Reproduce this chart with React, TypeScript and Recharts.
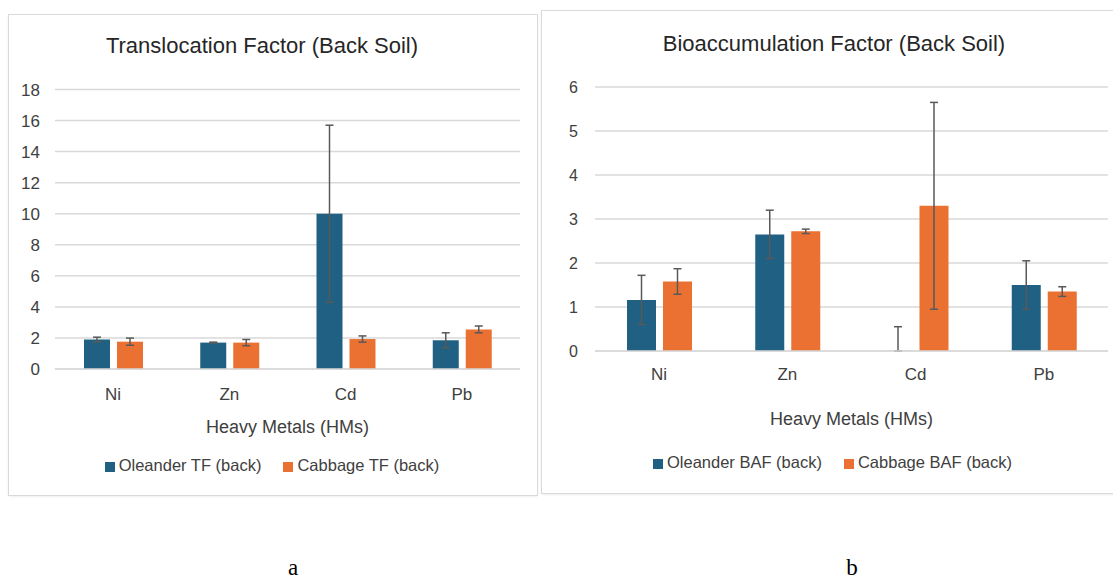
import React from "react";
import {
  BarChart,
  Bar,
  XAxis,
  YAxis,
  CartesianGrid,
  ErrorBar,
  Legend,
} from "recharts";

const metals = ["Ni", "Zn", "Cd", "Pb"];

// translocation factor (panel a)
const tfOleander = [1.9, 1.7, 10.0, 1.85];
const tfOleanderErr = [0.15, 0.03, 5.7, 0.48];
const tfCabbage = [1.76, 1.7, 1.93, 2.55];
const tfCabbageErr = [0.23, 0.2, 0.2, 0.22];
const tfTicks = [0, 2, 4, 6, 8, 10, 12, 14, 16, 18];

// bioaccumulation factor (panel b)
// Cd oleander is ~0; a zero-height bar drops its error bar in recharts, so keep it tiny
const bafOleander = [1.16, 2.65, 0.002, 1.5];
const bafOleanderErr = [0.56, 0.55, 0.55, 0.55];
const bafCabbage = [1.58, 2.72, 3.3, 1.35];
const bafCabbageErr = [0.29, 0.05, 2.35, 0.11];
const bafTicks = [0, 1, 2, 3, 4, 5, 6];

const OLEANDER = "#1f6083";
const CABBAGE = "#eb7133";
const GRID = "#d9d9d9";
const TEXT = "#404040";
const FONT = '"Liberation Sans", Arial, sans-serif';

// error bars can't go below the axis
const buildRows = (o: number[], oe: number[], c: number[], ce: number[]) =>
  metals.map((m, i) => ({
    metal: m,
    oleander: o[i],
    oleanderErr: [Math.min(oe[i], o[i]), oe[i]],
    cabbage: c[i],
    cabbageErr: [Math.min(ce[i], c[i]), ce[i]],
  }));

const tfData = buildRows(tfOleander, tfOleanderErr, tfCabbage, tfCabbageErr);
const bafData = buildRows(bafOleander, bafOleanderErr, bafCabbage, bafCabbageErr);

type PanelProps = {
  left: number;
  top: number;
  width: number;
  height: number;
  chartWidth: number;
  title: string;
  titleLeft: number;
  titleTop: number;
  data: any[];
  ticks: number[];
  oleanderName: string;
  cabbageName: string;
  margin: { top: number; right: number; bottom: number; left: number };
  yWidth: number;
  yTickMargin: number;
  yFont: number;
  xTickMargin: number;
  labelOffset: number;
  barSize: number;
  legendTop: number;
  legendLeft: number;
};

const Panel: React.FC<PanelProps> = (p) => {
  return (
    <div
      style={{
        position: "absolute",
        left: p.left,
        top: p.top,
        width: p.width,
        height: p.height,
        background: "#fff",
        boxShadow: `0 0 0 1px ${GRID}, 0 1px 3px rgba(0,0,0,0.12)`,
      }}
    >
      <div
        style={{
          position: "absolute",
          left: p.titleLeft - 250,
          top: p.titleTop,
          width: 500,
          textAlign: "center",
          fontFamily: FONT,
          fontSize: 22,
          lineHeight: "26px",
          color: "#262626",
          whiteSpace: "nowrap",
        }}
      >
        {p.title}
      </div>
      <BarChart
        width={p.chartWidth}
        height={p.height}
        data={p.data}
        margin={p.margin}
        barSize={p.barSize}
        barGap={7}
        style={{ position: "absolute", left: 0, top: 0 }}
      >
        <CartesianGrid vertical={false} stroke={GRID} strokeWidth={1.5} />
        <XAxis
          dataKey="metal"
          height={80}
          tickLine={false}
          tickSize={0}
          tickMargin={p.xTickMargin}
          axisLine={{ stroke: GRID, strokeWidth: 1.5 }}
          tick={{ fill: TEXT, fontSize: 17, fontFamily: FONT }}
          label={{
            value: "Heavy Metals (HMs)",
            position: "insideBottom",
            offset: p.labelOffset,
            fill: TEXT,
            fontSize: 18,
            fontFamily: FONT,
          }}
        />
        <YAxis
          width={p.yWidth}
          domain={[0, p.ticks[p.ticks.length - 1]]}
          ticks={p.ticks}
          interval={0}
          axisLine={false}
          tickLine={false}
          tickSize={0}
          tickMargin={p.yTickMargin}
          tick={{ fill: TEXT, fontSize: p.yFont, fontFamily: FONT }}
        />
        <Legend
          verticalAlign="middle"
          align="center"
          layout="horizontal"
          iconType="square"
          iconSize={10}
          itemSorter={(item: any) => (item.dataKey === "oleander" ? 0 : 1)}
          wrapperStyle={{
            top: p.legendTop,
            left: p.legendLeft,
            width: p.chartWidth,
            fontFamily: FONT,
            fontSize: 16.5,
          }}
          formatter={(value: any) => (
            <span style={{ color: TEXT, marginRight: 12 }}>{value}</span>
          )}
        />
        <Bar dataKey="oleander" name={p.oleanderName} fill={OLEANDER} isAnimationActive={false}>
          <ErrorBar dataKey="oleanderErr" width={4} stroke="#595959" strokeWidth={1.5} />
        </Bar>
        <Bar dataKey="cabbage" name={p.cabbageName} fill={CABBAGE} isAnimationActive={false}>
          <ErrorBar dataKey="cabbageErr" width={4} stroke="#595959" strokeWidth={1.5} />
        </Bar>
      </BarChart>
    </div>
  );
};

export default function App() {
  return (
    <div
      style={{
        position: "absolute",
        left: 0,
        top: 0,
        width: 1113,
        height: 579,
        background: "#fff",
        overflow: "hidden",
      }}
    >
      <Panel
        left={9}
        top={15}
        width={528}
        height={480}
        chartWidth={528}
        title="Translocation Factor (Back Soil)"
        titleLeft={253}
        titleTop={18}
        data={tfData}
        ticks={tfTicks}
        oleanderName="Oleander TF (back)"
        cabbageName="Cabbage TF (back)"
        margin={{ top: 74.5, right: 17, bottom: 46, left: 0 }}
        yWidth={46}
        yTickMargin={15}
        yFont={17}
        xTickMargin={19}
        labelOffset={16}
        barSize={26}
        legendTop={441}
        legendLeft={10}
      />
      <Panel
        left={542}
        top={11}
        width={590}
        height={482}
        chartWidth={571}
        title="Bioaccumulation Factor (Back Soil)"
        titleLeft={292}
        titleTop={20}
        data={bafData}
        ticks={bafTicks}
        oleanderName="Oleander BAF (back)"
        cabbageName="Cabbage BAF (back)"
        margin={{ top: 76, right: 5, bottom: 62, left: 0 }}
        yWidth={53}
        yTickMargin={17}
        yFont={16}
        xTickMargin={17}
        labelOffset={6}
        barSize={29}
        legendTop={442}
        legendLeft={16}
      />
      {["a", "b"].map((t, i) => (
        <div
          key={t}
          style={{
            position: "absolute",
            left: (i === 0 ? 293 : 852) - 20,
            top: 557,
            width: 40,
            textAlign: "center",
            fontFamily: '"Liberation Serif", "Times New Roman", serif',
            fontSize: 23,
            lineHeight: "22px",
            color: "#000",
          }}
        >
          {t}
        </div>
      ))}
    </div>
  );
}
